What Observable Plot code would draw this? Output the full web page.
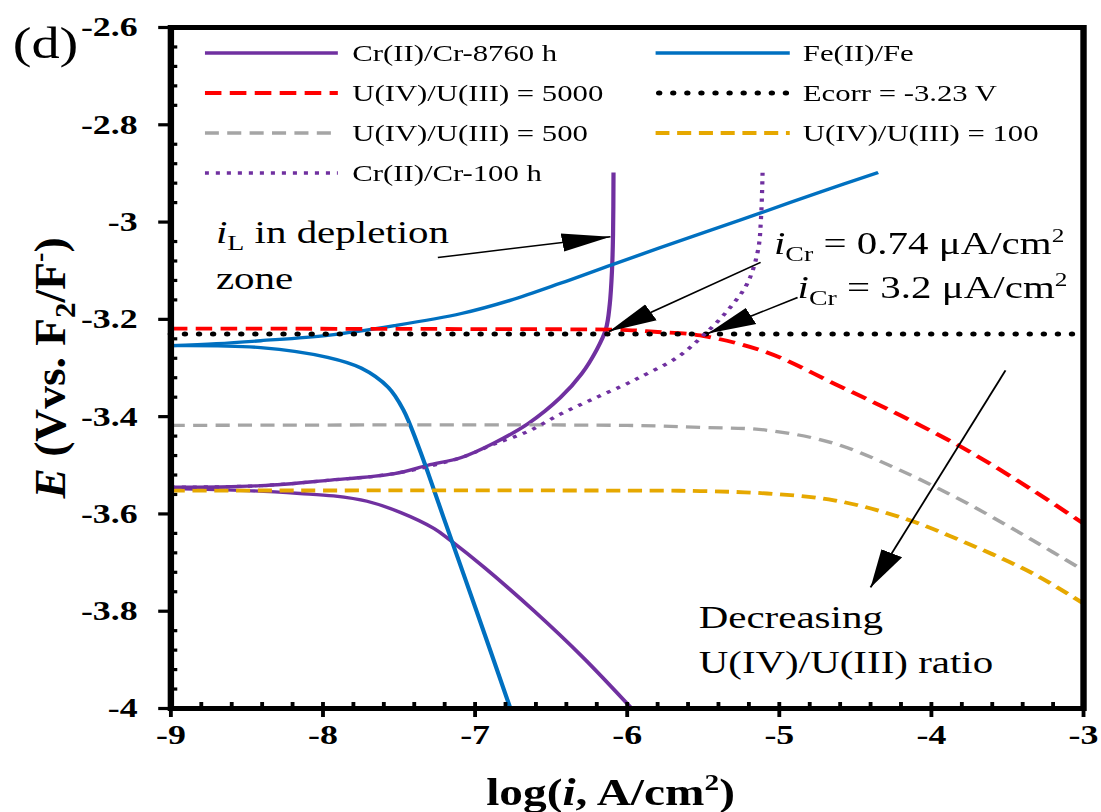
<!DOCTYPE html>
<html><head><meta charset="utf-8">
<script src="https://cdn.jsdelivr.net/npm/d3@7"></script>
<script src="https://cdn.jsdelivr.net/npm/@observablehq/plot@0.6"></script>
<style>
html,body{margin:0;padding:0;background:#fff;overflow:hidden;}
#fig{position:relative;width:860px;height:812px;transform:scaleX(1.28);transform-origin:0 0;font-family:"Liberation Serif","Times New Roman",serif;}
.lg-row{position:absolute;display:flex;align-items:center;height:40px;font-size:24px;color:#000;white-space:nowrap;}
.lg-row svg{display:block;flex:none;}
#fig g[aria-label$="tick label"]{font-weight:bold;}
</style></head><body><div id="fig"></div>
<script>
// ---------- tick values ----------
const xMajor = [-9, -8, -7, -6, -5, -4, -3];
const yMajor = [-2.6, -2.8, -3, -3.2, -3.4, -3.6, -3.8, -4];
const xMinor = d3.range(0, 31).map(i => -9 + i * 0.2).filter(v => Math.abs(v - Math.round(v)) > 1e-6);
const yMinor = d3.range(0, 36).map(i => -2.6 - i * 0.04).filter(v => !yMajor.some(m => Math.abs(m - v) < 1e-6));

// ---------- series (log i, E) ----------
const crAnodic8760 = [[-9,-3.545],[-8.41,-3.542],[-7.97,-3.531],[-7.53,-3.517],[-7.31,-3.50],[-7.09,-3.484],[-6.88,-3.455],[-6.65,-3.414],[-6.44,-3.361],[-6.3,-3.312],[-6.2,-3.262],[-6.14,-3.22],[-6.115,-3.17],[-6.10,-3.10],[-6.093,-3.024],[-6.09,-2.898]];
const crCathodic8760 = [[-9,-3.548],[-8.5,-3.552],[-8.15,-3.558],[-7.93,-3.563],[-7.71,-3.574],[-7.49,-3.597],[-7.27,-3.63],[-7.16,-3.655],[-6.94,-3.71],[-6.61,-3.80],[-6.29,-3.895],[-5.97,-4.0]];
const feAnodic = [[-9,-3.254],[-8.7,-3.250],[-8.41,-3.244],[-7.97,-3.233],[-7.53,-3.213],[-7.09,-3.188],[-6.77,-3.161],[-6.44,-3.126],[-6.095,-3.087],[-5.5,-3.022],[-5.12,-2.981],[-4.73,-2.938],[-4.35,-2.898]];
const feCathodic = [[-9,-3.254],[-8.41,-3.258],[-7.97,-3.278],[-7.75,-3.30],[-7.57,-3.34],[-7.47,-3.387],[-7.38,-3.455],[-7.31,-3.515],[-7.21,-3.605],[-6.99,-3.80],[-6.77,-3.998]];
const u5000 = [[-9,-3.219],[-7,-3.220],[-6,-3.222],[-5.8,-3.226],[-5.52,-3.233],[-5.08,-3.268],[-4.64,-3.332],[-4.20,-3.398],[-3.76,-3.47],[-3.33,-3.552],[-3.0,-3.62]];
const ecorr = [[-9,-3.23],[-3,-3.23]];
const u500 = [[-9,-3.418],[-6,-3.418],[-5.52,-3.422],[-5.08,-3.428],[-4.64,-3.455],[-4.20,-3.511],[-3.76,-3.579],[-3.33,-3.655],[-3.0,-3.716]];
const u100 = [[-9,-3.552],[-6,-3.552],[-5.52,-3.553],[-5.08,-3.558],[-4.64,-3.572],[-4.20,-3.607],[-3.76,-3.661],[-3.33,-3.723],[-3.0,-3.784]];
const crAnodic100 = [[-9,-3.545],[-8.41,-3.542],[-7.97,-3.531],[-7.53,-3.517],[-7.09,-3.484],[-6.88,-3.457],[-6.65,-3.43],[-6.44,-3.395],[-6.22,-3.363],[-6.0,-3.332],[-5.91,-3.318],[-5.67,-3.278],[-5.50,-3.233],[-5.34,-3.182],[-5.21,-3.126],[-5.14,-3.058],[-5.12,-2.99],[-5.11,-2.898]];

// ---------- styles per series ----------
const C = {purple:"#7030A0", blue:"#0070C0", red:"#FF0000", gray:"#A5A5A5", gold:"#E6A800", black:"#000000"};
const series = [
  {name:"Cr(II)/Cr-8760 h", data:[crAnodic8760, crCathodic8760], stroke:C.purple, w:3.3, dash:null, cap:"butt"},
  {name:"Fe(II)/Fe", data:[feAnodic, feCathodic], stroke:C.blue, w:3.3, dash:null, cap:"butt"},
  {name:"U(IV)/U(III) = 5000", data:[u5000], stroke:C.red, w:3.8, dash:"13 6.5", cap:"butt"},
  {name:"Ecorr = -3.23 V", data:[ecorr], stroke:C.black, w:5, dash:"0 11", cap:"round"},
  {name:"U(IV)/U(III) = 500", data:[u500], stroke:C.gray, w:3.3, dash:"11 6.5", cap:"butt"},
  {name:"U(IV)/U(III) = 100", data:[u100], stroke:C.gold, w:3.8, dash:"11 6", cap:"butt"},
  {name:"Cr(II)/Cr-100 h", data:[crAnodic100], stroke:C.purple, w:3.3, dash:"3.2 5.4", cap:"butt"}
];
// legend layout: column, row
const legendOrder = [
  ["Cr(II)/Cr-8760 h", 0, 0], ["U(IV)/U(III) = 5000", 0, 1], ["U(IV)/U(III) = 500", 0, 2], ["Cr(II)/Cr-100 h", 0, 3],
  ["Fe(II)/Fe", 1, 0], ["Ecorr = -3.23 V", 1, 1], ["U(IV)/U(III) = 100", 1, 2]
];

// ---------- annotations ----------
const annotTexts = [
  {x:-8.704, y:-3.042, t:"*i*_{L} in depletion"},
  {x:-8.704, y:-3.137, t:"zone"},
  {x:-5.035, y:-3.065, t:"*i*_{Cr} = 0.74 μA/cm^{2}"},
  {x:-4.88, y:-3.157, t:"*i*_{Cr} = 3.2 μA/cm^{2}"},
  {x:-5.53, y:-3.834, t:"Decreasing"},
  {x:-5.53, y:-3.928, t:"U(IV)/U(III) ratio"}
];
const arrows = [
  {x1:-7.245, y1:-3.073, x2:-6.11, y2:-3.03},
  {x1:-5.123, y1:-3.083, x2:-6.12, y2:-3.225},
  {x1:-4.88, y1:-3.155, x2:-5.47, y2:-3.229},
  {x1:-3.513, y1:-3.305, x2:-4.40, y2:-3.751}
];
const xLabel = "log(*i*, A/cm^{2})";
const yLabel = "*E* (Vvs. F_{2}/F^{-})";
const panelTag = "(d)";

// ---------- layout ----------
const W = 860, H = 812, ML = 133, MR = 14, MT = 27, MB = 104;
const PW = W - ML - MR, PH = H - MT - MB;

const lineMarks = [];
for (const s of series) for (const d of s.data) {
  lineMarks.push(Plot.line(d, {x: p => p[0], y: p => p[1], stroke: s.stroke, strokeWidth: s.w,
    strokeDasharray: s.dash, strokeLinecap: s.cap, curve: "catmull-rom"}));
}

const plot = Plot.plot({
  width: W, height: H, marginLeft: ML, marginRight: MR, marginTop: MT, marginBottom: MB,
  style: {background: "white", color: "black", fontFamily: "'Liberation Serif','Times New Roman',serif", overflow: "visible"},
  x: {domain: [-9, -3]},
  y: {domain: [-4, -2.6]},
  marks: [
    ...lineMarks,
    Plot.link(arrows, {x1: "x1", y1: "y1", x2: "x2", y2: "y2", stroke: "black", strokeWidth: 1.5}),
    Plot.text(annotTexts, {x: "x", y: "y", text: "t", textAnchor: "start", lineAnchor: "bottom", fontSize: 32, fill: "black"}),
    Plot.tickY(yMinor, {y: d => d, insetRight: PW - 5.5, stroke: "black", strokeWidth: 3.2}),
    Plot.tickY(yMajor, {y: d => d, insetLeft: -9.4, insetRight: PW, stroke: "black", strokeWidth: 3.2}),
    Plot.tickX(xMinor, {x: d => d, insetTop: PH - 6, stroke: "black", strokeWidth: 3}),
    Plot.tickX(xMajor, {x: d => d, insetTop: PH - 6, insetBottom: -9, stroke: "black", strokeWidth: 3}),
    Plot.frame({stroke: "black", strokeWidth: 5}),
    Plot.axisY({ticks: yMajor, tickSize: 0, tickPadding: 26, tickFormat: d => String(d), fontSize: 28, fontWeight: "bold", label: null}),
    Plot.axisX({ticks: xMajor, tickSize: 0, tickPadding: 16, tickFormat: d => String(d), fontSize: 28, fontWeight: "bold", label: null}),
    Plot.text([xLabel], {frameAnchor: "bottom", dx: -13, dy: 96, textAnchor: "middle", lineAnchor: "bottom", fontSize: 37, fontWeight: "bold"}),
    Plot.text([yLabel], {frameAnchor: "left", dx: -94, rotate: -90, textAnchor: "middle", lineAnchor: "middle", fontSize: 35, fontWeight: "bold"}),
    Plot.text([panelTag], {frameAnchor: "top-left", dx: -123.6, dy: 30, textAnchor: "start", lineAnchor: "bottom", fontSize: 44})
  ]
});

const fig = document.getElementById("fig");
fig.appendChild(plot);
const svg = d3.select(plot);

// y label: lengthen along its own direction (before rich text)
svg.selectAll("text").each(function() {
  if (this.textContent === yLabel) {
    const tr = this.getAttribute("transform") || "";
    this.setAttribute("transform", tr + " scale(1.3,1)");
  }
});

// rich text: *italic*, _{sub}, ^{sup}
const NS = "http://www.w3.org/2000/svg";
function richify(el) {
  const s = el.textContent;
  if (!/[*_^]/.test(s)) return;
  const fs = parseFloat(getComputedStyle(el).fontSize) || 16;
  while (el.firstChild) el.removeChild(el.firstChild);
  const re = /\*([^*]+)\*|_\{([^}]*)\}|\^\{([^}]*)\}|([^*_^]+)/g;
  let shift = 0, m;
  while ((m = re.exec(s))) {
    const t = document.createElementNS(NS, "tspan");
    let target = 0;
    if (m[1] != null) { t.textContent = m[1]; t.setAttribute("font-style", "italic"); }
    else if (m[2] != null) { t.textContent = m[2]; t.setAttribute("font-size", 0.68 * fs); target = 0.22 * fs; }
    else if (m[3] != null) { t.textContent = m[3]; t.setAttribute("font-size", 0.62 * fs); target = -0.38 * fs; }
    else t.textContent = m[4];
    if (Math.abs(target - shift) > 1e-9) { t.setAttribute("dy", target - shift); shift = target; }
    el.appendChild(t);
  }
}
svg.selectAll("text").each(function() { richify(this); });

// filled arrowheads on the annotation links
const defs = svg.insert("defs", ":first-child");
defs.append("marker").attr("id", "ahead").attr("viewBox", "0 -12 40 24").attr("refX", 38).attr("refY", 0)
  .attr("markerWidth", 40).attr("markerHeight", 24).attr("markerUnits", "userSpaceOnUse").attr("orient", "auto")
  .append("path").attr("d", "M0,-9L38,0L0,9Z").attr("fill", "black");
svg.selectAll('g[aria-label="link"] path').attr("marker-end", "url(#ahead)");

// legend overlay
const colLeft = [160.2, 511.7], swW = [104, 105.5], gap = [11, 10];
const byName = new Map(series.map(s => [s.name, s]));
for (const [name, c, r] of legendOrder) {
  const s = byName.get(name);
  const row = d3.select(fig).append("div").attr("class", "lg-row")
    .style("left", colLeft[c] + "px").style("top", (33 + 40 * r) + "px");
  const sw = row.append("svg").attr("width", swW[c]).attr("height", 12).style("margin-right", gap[c] + "px");
  sw.append("line").attr("x1", s.cap === "round" ? 3 : 0).attr("x2", swW[c]).attr("y1", 6).attr("y2", 6)
    .attr("stroke", s.stroke).attr("stroke-width", s.w).attr("stroke-dasharray", s.dash)
    .attr("stroke-linecap", s.cap);
  row.append("span").text(name);
}
</script></body></html>
